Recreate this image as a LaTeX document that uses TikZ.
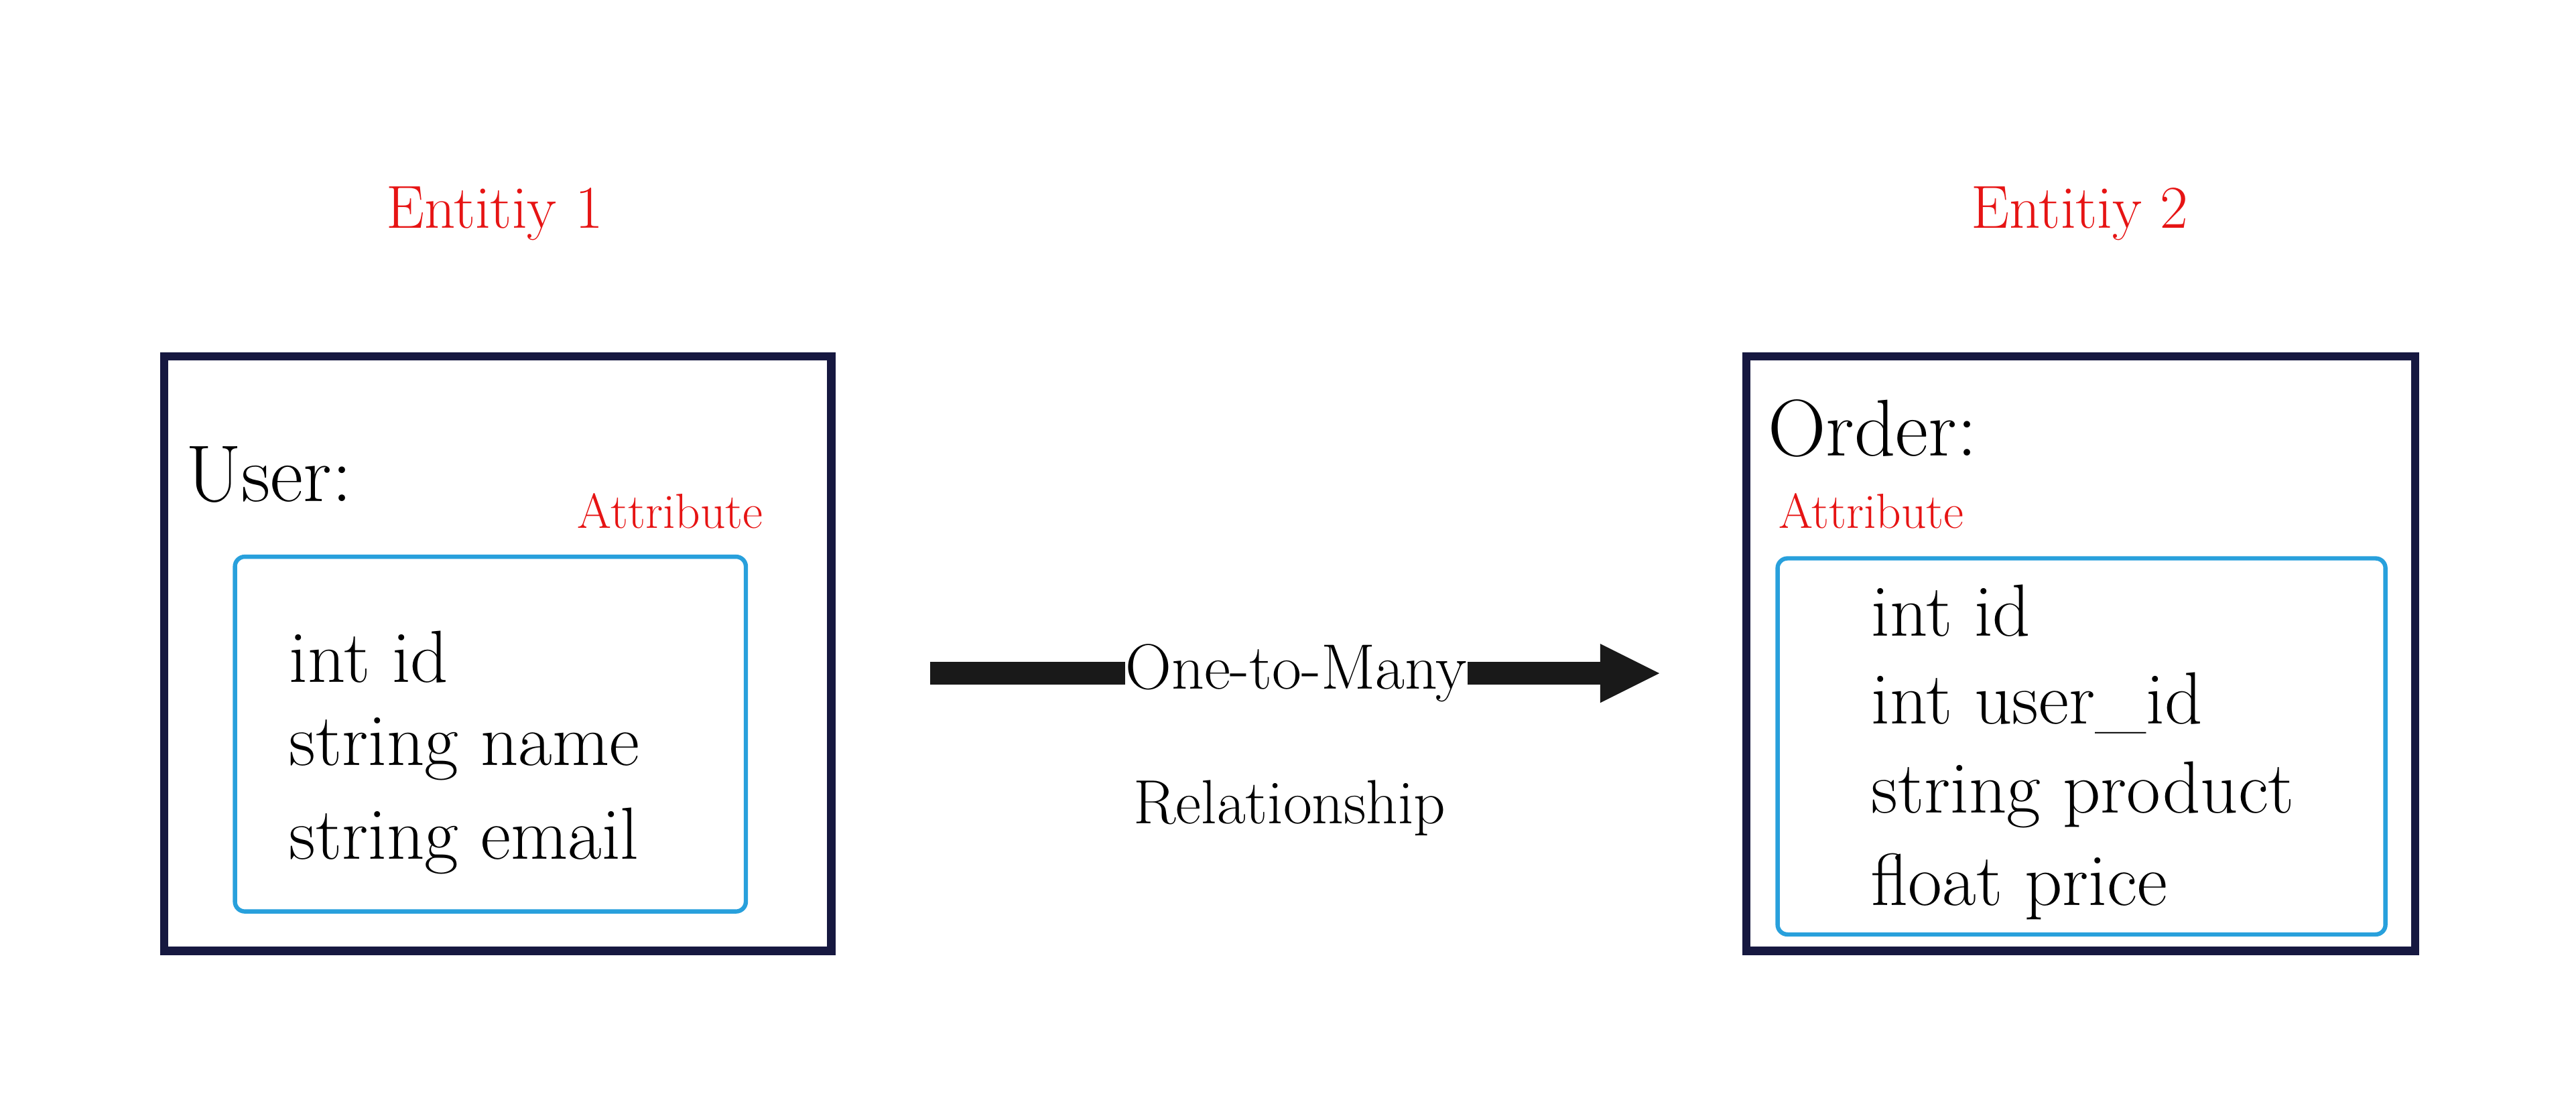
\documentclass[tikz,border=0pt]{standalone}
\usetikzlibrary{arrows.meta}
\definecolor{navy}{RGB}{22,24,64}
\definecolor{lblue}{RGB}{40,160,220}
\definecolor{ered}{RGB}{230,20,20}
\tikzset{
 outer/.style={draw=navy,line width=5pt},
 inner/.style={draw=lblue,line width=2.6pt,rounded corners=6pt},
 redlbl/.style={text=ered,inner sep=0pt},
 attr/.style={anchor=west,inner sep=0pt,font=\fontsize{45}{50}\selectfont},
 title/.style={anchor=west,inner sep=0pt,font=\fontsize{49}{54}\selectfont},
}
\begin{document}
\begin{tikzpicture}[x=1pt,y=-1pt]
\useasboundingbox (0,0) rectangle (1568,678);
% Entity 1
\node[redlbl,font=\fontsize{37}{40}\selectfont] (e1) at (301,130) {Entitiy 1};
\draw[outer] (100,217) rectangle (506,579);
\node[title] (user) at (113,289) {User:};
\node[redlbl,font=\fontsize{30}{34}\selectfont] (a1) at (408,311) {Attribute};
\draw[inner] (143,339) rectangle (454,555);
\node[attr] (u1) at (176,400) {int id};
\node[attr] (u2) at (176,456) {string name};
\node[attr] (u3) at (176,512) {string email};
% Entity 2
\node[redlbl,font=\fontsize{37}{40}\selectfont] (e2) at (1266,130) {Entitiy 2};
\draw[outer] (1063,217) rectangle (1470,579);
\node[title] (order) at (1076,261) {Order:};
\node[redlbl,font=\fontsize{30}{34}\selectfont] (a2) at (1139,311) {Attribute};
\draw[inner] (1082,340) rectangle (1452,569);
\node[attr] (o1) at (1139,372) {int id};
\node[attr] (o2) at (1139,428) {int user\_id};
\node[attr] (o3) at (1139,484) {string product};
\node[attr] (o4) at (1139,540) {float price};
% Relationship arrow
\coordinate (as) at (566,410);
\coordinate (ae) at (1010,410);
\node[inner sep=0pt,font=\fontsize{39}{42}\selectfont] (rel) at (789,410) {One-to-Many};
\node[inner sep=0pt,font=\fontsize{38}{42}\selectfont] (rel2) at (785,492) {Relationship};
\draw[line width=14pt,color=black!90] (as) -- (rel.west);
\draw[line width=14pt,color=black!90,-{Triangle[length=36pt,width=36pt,line width=0pt]}] (rel.east) -- (ae);
\end{tikzpicture}
\end{document}
